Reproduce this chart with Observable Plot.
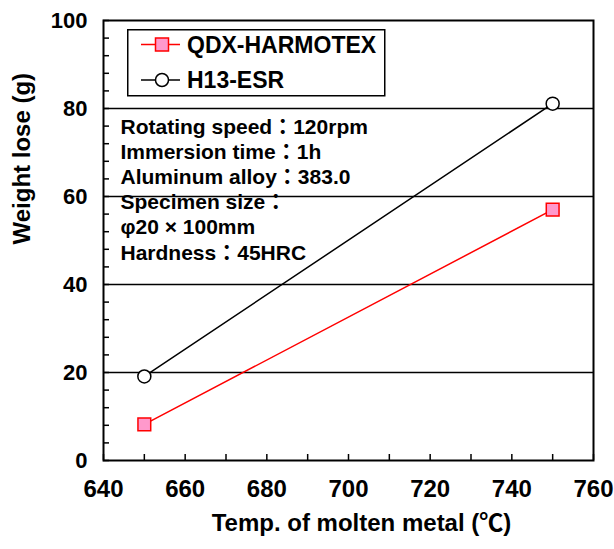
<!DOCTYPE html>
<html>
<head>
<meta charset="utf-8">
<script src="https://cdn.jsdelivr.net/npm/d3@7"></script>
<script src="https://cdn.jsdelivr.net/npm/@observablehq/plot@0.6"></script>
<style>
  html, body { margin: 0; padding: 0; background: #fff; }
  #wrap { position: relative; width: 614px; height: 549px; font-family: "Liberation Sans", Arial, sans-serif; font-weight: bold; }
  #legend { position: absolute; left: 127px; top: 29px; }
</style>
</head>
<body>
<div id="wrap"></div>
<script>
// ---- data ----
const temps = [650, 750];
const qdxLoss = [8.2, 57.0];
const h13Loss = [19.1, 81.1];
const seriesNames = ["QDX-HARMOTEX", "H13-ESR"];
const xTicksMajor = [640, 660, 680, 700, 720, 740, 760];
const xTicksMinor = d3.range(640, 761, 10);
const yTicksMajor = [0, 20, 40, 60, 80, 100];
const yTicksMinor = d3.range(0, 101, 4);
const gridValues = [20, 40, 60, 80];
const notes = [
  "Rotating speed：120rpm",
  "Immersion time：1h",
  "Aluminum alloy：383.0",
  "Specimen size：",
  "φ20 × 100mm",
  "Hardness：45HRC"
];
const xLabel = "Temp. of molten metal (℃)";
const yLabel = "Weight lose (g)";

const qdx = temps.map((t, i) => ({t, v: qdxLoss[i]}));
const h13 = temps.map((t, i) => ({t, v: h13Loss[i]}));

const font = '"Liberation Sans", Arial, "Noto Sans CJK JP", sans-serif';

const chart = Plot.plot({
  width: 614,
  height: 549,
  marginLeft: 103,
  marginRight: 21,
  marginTop: 20,
  marginBottom: 89,
  style: {fontFamily: font, fontWeight: "bold", color: "#000", background: "#fff"},
  x: {domain: [640, 760]},
  y: {domain: [0, 100]},
  marks: [
    Plot.ruleY(gridValues, {stroke: "#000", strokeWidth: 1.5}),
    // inward ticks (shifted inside the frame)
    Plot.axisX({ticks: xTicksMinor, tickSize: 6, dy: -6, tickFormat: () => "", strokeWidth: 1.5, label: null}),
    Plot.axisY({ticks: yTicksMinor, tickSize: 6, dx: 6, tickFormat: () => "", strokeWidth: 1.5, label: null}),
    // tick labels
    Plot.axisX({ticks: xTicksMajor, tickSize: 0, tickPadding: 19, fontSize: 24, label: null}),
    Plot.axisY({ticks: yTicksMajor, tickSize: 0, tickPadding: 16, fontSize: 22, label: null}),
    Plot.frame({stroke: "#000", strokeWidth: 2}),
    Plot.line(h13, {x: "t", y: "v", stroke: "#000", strokeWidth: 1.5}),
    Plot.line(qdx, {x: "t", y: "v", stroke: "#ff0000", strokeWidth: 1.5}),
    Plot.dot(h13, {x: "t", y: "v", r: 6.5, fill: "#fff", stroke: "#000", strokeWidth: 1.5}),
    Plot.dot(qdx, {x: "t", y: "v", symbol: "square", r: 7.2, fill: "#ff99cc", stroke: "#ff0000", strokeWidth: 1.5}),
    Plot.text([notes.join("\n")], {frameAnchor: "top-left", textAnchor: "start", lineAnchor: "middle", dx: 17, dy: 168, fontSize: 21, lineHeight: 1.2, fill: "#000"}),
    Plot.text([xLabel], {frameAnchor: "bottom", dx: 13, dy: 70, fontSize: 24, fill: "#000"}),
    Plot.text([yLabel], {frameAnchor: "left", rotate: -90, dx: -81, dy: 4, fontSize: 24, fill: "#000"})
  ]
});

const wrap = document.getElementById("wrap");
wrap.appendChild(chart);

// legend
const legend = document.createElement("div");
legend.id = "legend";
legend.innerHTML = `
<svg width="260" height="69" style="display:block;overflow:visible">
  <rect x="0.75" y="0.75" width="257" height="66" fill="#fff" stroke="#000" stroke-width="1.5"/>
  <line x1="14" x2="53" y1="15.5" y2="15.5" stroke="#ff0000" stroke-width="1.5"/>
  <rect x="28.5" y="9" width="13" height="13" fill="#ff99cc" stroke="#ff0000" stroke-width="1.5"/>
  <text x="60" y="15.5" dy="0.35em" font-size="23" font-weight="bold" font-family='${font}'>${seriesNames[0]}</text>
  <line x1="14" x2="53" y1="51" y2="51" stroke="#000" stroke-width="1.5"/>
  <circle cx="35" cy="51" r="6.5" fill="#fff" stroke="#000" stroke-width="1.5"/>
  <text x="60" y="51" dy="0.35em" font-size="23" font-weight="bold" font-family='${font}'>${seriesNames[1]}</text>
</svg>`;
wrap.appendChild(legend);
</script>
</body>
</html>
